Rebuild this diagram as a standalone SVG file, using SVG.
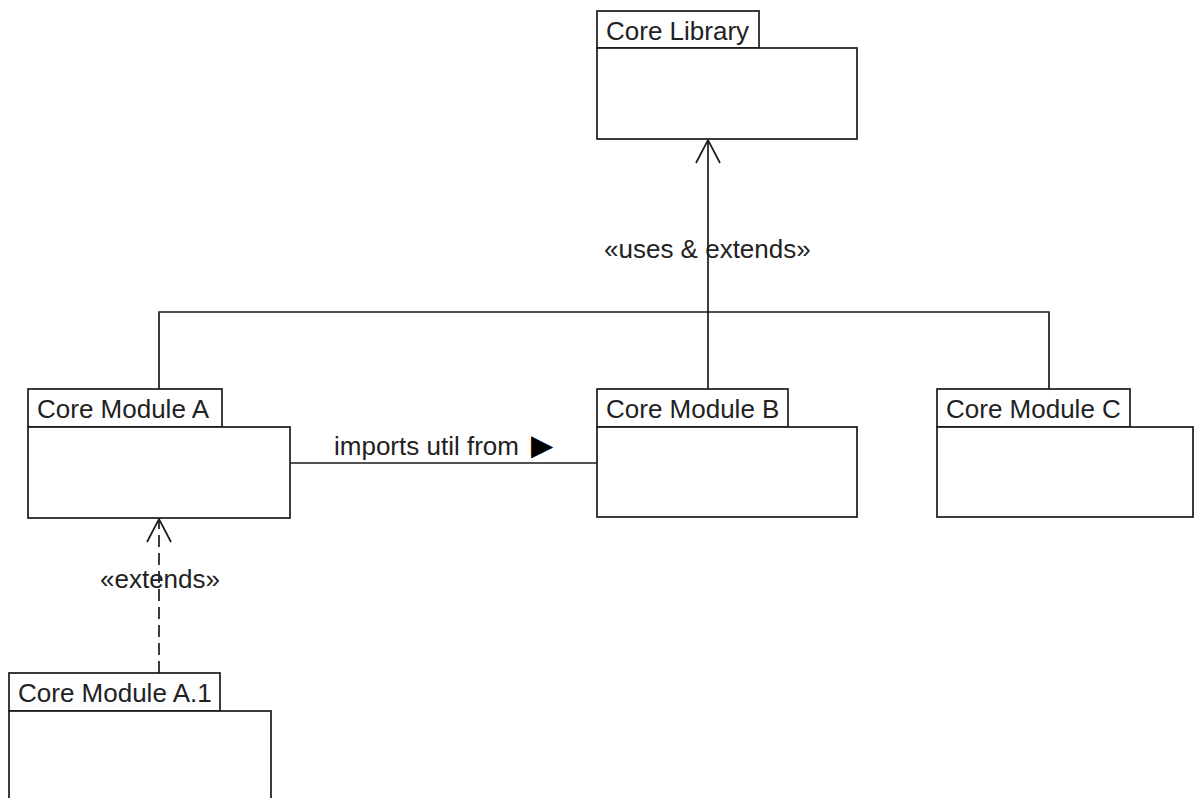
<svg xmlns="http://www.w3.org/2000/svg" width="1195" height="798" viewBox="0 0 1195 798">
<style>
.box{fill:#fff;stroke:#1a1a1a;stroke-width:1.7}
.ln{fill:none;stroke:#1a1a1a;stroke-width:1.7}
.dash{fill:none;stroke:#1a1a1a;stroke-width:1.7;stroke-dasharray:12 6}
.t{font-family:"Liberation Sans",Arial,sans-serif;font-size:26px;fill:#222}
</style>
<rect width="1195" height="798" fill="#fff"/>
<g id="connectors">
<polyline class="ln" points="159,389 159,312 1049,312 1049,389"/>
<line class="ln" x1="708" y1="389" x2="708" y2="140"/>
<polyline class="ln" points="696,163 708,140 720,163"/>
<text class="t" x="604" y="258">«uses &amp; extends»</text>
<line class="ln" x1="290" y1="463" x2="597" y2="463"/>
<text class="t" x="334" y="455">imports util from <tspan x="531" font-family="DejaVu Sans,sans-serif" font-size="29" fill="#000">▶</tspan></text>
<line class="dash" x1="159" y1="673" x2="159" y2="520"/>
<polyline class="ln" points="147,542 159,519 171,542"/>
<text class="t" x="100" y="588">«extends»</text>
</g>
<g id="core-library">
<rect class="box" x="597" y="11" width="162" height="37"/>
<rect class="box" x="597" y="48" width="260" height="91"/>
<text class="t" x="606" y="40">Core Library</text>
</g>
<g id="core-module-a">
<rect class="box" x="28" y="389" width="194" height="38"/>
<rect class="box" x="28" y="427" width="262" height="91"/>
<text class="t" x="37" y="418">Core Module A</text>
</g>
<g id="core-module-b">
<rect class="box" x="597" y="389" width="191" height="38"/>
<rect class="box" x="597" y="427" width="260" height="90"/>
<text class="t" x="606" y="418">Core Module B</text>
</g>
<g id="core-module-c">
<rect class="box" x="937" y="389" width="193" height="38"/>
<rect class="box" x="937" y="427" width="256" height="90"/>
<text class="t" x="946" y="418">Core Module C</text>
</g>
<g id="core-module-a1">
<rect class="box" x="9" y="673" width="211" height="38"/>
<rect class="box" x="9" y="711" width="262" height="100"/>
<text class="t" x="18" y="702">Core Module A.1</text>
</g>
</svg>
